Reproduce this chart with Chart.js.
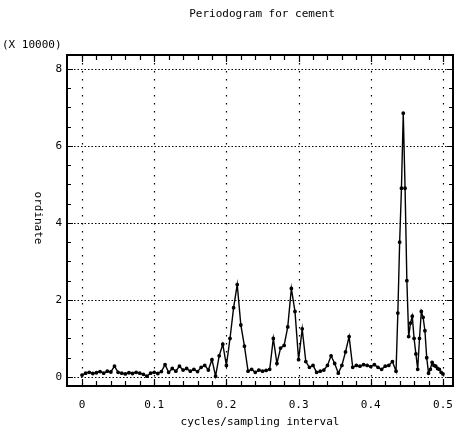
<!DOCTYPE html>
<html lang="en">
<head>
<meta charset="UTF-8">
<title>Periodogram for cement</title>
<script src="https://cdn.jsdelivr.net/npm/chart.js@4.4.1/dist/chart.umd.min.js"></script>
<style>
  html, body { margin: 0; padding: 0; background: #fff; }
  #wrap { width: 459px; height: 435px; }
</style>
</head>
<body>
<div id="wrap"><canvas id="chart" width="459" height="435"></canvas></div>
<script>
// frequency (cycles/sampling interval) and periodogram ordinate (x 10000)
const freq = [
  0.000, 0.005, 0.010, 0.015, 0.020, 0.025, 0.030, 0.035, 0.040, 0.045,
  0.050, 0.055, 0.060, 0.065, 0.070, 0.075, 0.080, 0.085, 0.090, 0.095,
  0.100, 0.105, 0.110, 0.115, 0.120, 0.125, 0.130, 0.135, 0.140, 0.145,
  0.150, 0.155, 0.160, 0.165, 0.170, 0.175, 0.180, 0.185, 0.190, 0.195,
  0.200, 0.205, 0.210, 0.215, 0.220, 0.225, 0.230, 0.235, 0.240, 0.245,
  0.250, 0.255, 0.260, 0.265, 0.270, 0.275, 0.280, 0.285, 0.290, 0.295,
  0.300, 0.305, 0.310, 0.315, 0.320, 0.325, 0.330, 0.335, 0.340, 0.345,
  0.350, 0.355, 0.360, 0.365, 0.370, 0.375, 0.380, 0.385, 0.390, 0.395,
  0.400, 0.405, 0.410, 0.415, 0.420, 0.425, 0.430, 0.435, 0.4375, 0.440,
  0.4425, 0.445, 0.4475, 0.450, 0.4525, 0.455, 0.4575, 0.460, 0.4625, 0.465,
  0.4675, 0.470, 0.4725, 0.475, 0.4775, 0.480, 0.4825, 0.485, 0.4875, 0.490,
  0.4925, 0.495, 0.4975, 0.500
];
const ordinate = [
  0.05, 0.10, 0.12, 0.09, 0.11, 0.14, 0.10, 0.15, 0.13, 0.28,
  0.12, 0.10, 0.08, 0.11, 0.09, 0.12, 0.10, 0.07, 0.02, 0.10,
  0.12, 0.09, 0.14, 0.32, 0.12, 0.22, 0.15, 0.28, 0.18, 0.22,
  0.15, 0.20, 0.14, 0.25, 0.30, 0.18, 0.45, 0.02, 0.55, 0.85,
  0.30, 1.00, 1.80, 2.40, 1.35, 0.80, 0.15, 0.20, 0.12, 0.18,
  0.15, 0.17, 0.20, 1.00, 0.35, 0.75, 0.82, 1.30, 2.30, 1.70,
  0.45, 1.25, 0.40, 0.25, 0.30, 0.12, 0.15, 0.18, 0.30, 0.55,
  0.35, 0.10, 0.30, 0.65, 1.05, 0.25, 0.30, 0.28, 0.32, 0.30,
  0.27, 0.32, 0.25, 0.20, 0.28, 0.30, 0.40, 0.15, 1.66, 3.50,
  4.90, 6.85, 4.90, 2.50, 1.05, 1.40, 1.58, 1.00, 0.60, 0.20,
  1.00, 1.70, 1.55, 1.20, 0.50, 0.10, 0.20, 0.38, 0.30, 0.28,
  0.22, 0.20, 0.12, 0.08
];
const xTicks = [0, 0.1, 0.2, 0.3, 0.4, 0.5];
const xTickLabels = ['0', '0.1', '0.2', '0.3', '0.4', '0.5'];
const yTicks = [0, 2, 4, 6, 8];

const monoFont = '"DejaVu Sans Mono", "Liberation Mono", monospace';

// frame, dotted grid, minor ticks and extra labels
const framePlugin = {
  id: 'frame',
  beforeDatasetsDraw(chart) {
    const ctx = chart.ctx;
    const a = chart.chartArea;
    const xs = chart.scales.x, ys = chart.scales.y;
    ctx.save();
    ctx.strokeStyle = '#000';
    ctx.lineWidth = 1.2;
    // vertical dotted grid
    ctx.setLineDash([1.5, 6.5]);
    xTicks.forEach(v => {
      const px = Math.round(xs.getPixelForValue(v)) + 0.5;
      ctx.beginPath(); ctx.moveTo(px, a.top); ctx.lineTo(px, a.bottom); ctx.stroke();
    });
    // horizontal dotted grid
    ctx.setLineDash([1.5, 2]);
    yTicks.forEach(v => {
      const py = Math.round(ys.getPixelForValue(v)) + 0.5;
      ctx.beginPath(); ctx.moveTo(a.left, py); ctx.lineTo(a.right, py); ctx.stroke();
    });
    ctx.setLineDash([]);
    // minor ticks
    for (let i = 0; i <= 25; i++) {
      const px = Math.round(xs.getPixelForValue(i * 0.02)) + 0.5;
      const len = (i % 5 === 0) ? 7 : 5;
      ctx.beginPath();
      ctx.moveTo(px, a.bottom); ctx.lineTo(px, a.bottom - len);
      ctx.moveTo(px, a.top); ctx.lineTo(px, a.top + len);
      ctx.stroke();
    }
    for (let i = 0; i <= 16; i++) {
      const py = Math.round(ys.getPixelForValue(i * 0.5)) + 0.5;
      const len = (i % 4 === 0) ? 6 : 4;
      ctx.beginPath();
      ctx.moveTo(a.left, py); ctx.lineTo(a.left + len, py);
      ctx.moveTo(a.right, py); ctx.lineTo(a.right - len, py);
      ctx.stroke();
    }
    ctx.restore();
  },
  afterDraw(chart) {
    const ctx = chart.ctx;
    const a = chart.chartArea;
    ctx.save();
    ctx.strokeStyle = '#000';
    ctx.lineWidth = 2;
    ctx.strokeRect(a.left, a.top, a.right - a.left, a.bottom - a.top);
    ctx.fillStyle = '#000';
    ctx.font = '11px ' + monoFont;
    ctx.textBaseline = 'middle';
    ctx.textAlign = 'center';
    ctx.fillText('Periodogram for cement', 262, 14);
    ctx.textAlign = 'left';
    ctx.fillText('(X 10000)', 2, 45);
    // rotated y-axis title
    ctx.translate(38, 218);
    ctx.rotate(Math.PI / 2);
    ctx.textAlign = 'center';
    ctx.fillText('ordinate', 0, 0);
    ctx.restore();
  }
};

new Chart(document.getElementById('chart').getContext('2d'), {
  type: 'scatter',
  data: {
    datasets: [{
      data: freq.map((f, i) => ({ x: f, y: ordinate[i] })),
      showLine: true,
      borderColor: '#000',
      backgroundColor: '#000',
      borderWidth: 1.4,
      pointRadius: 1.2,
      pointHoverRadius: 1.2,
      tension: 0
    }]
  },
  options: {
    responsive: false,
    animation: false,
    events: [],
    layout: { padding: { top: 55, right: 6, left: 0, bottom: 0 } },
    plugins: { legend: { display: false }, tooltip: { enabled: false } },
    scales: {
      x: {
        type: 'linear',
        min: -0.0208,
        max: 0.5139,
        afterFit(scale) {
          scale.height = 49;
          scale.paddingLeft = 0;
          scale.paddingRight = 0;
        },
        afterBuildTicks(scale) { scale.ticks = xTicks.map(v => ({ value: v })); },
        grid: { display: false, drawTicks: false },
        border: { display: false },
        ticks: {
          color: '#000',
          font: { family: monoFont, size: 11 },
          padding: 13,
          maxRotation: 0,
          callback: (v) => xTickLabels[xTicks.indexOf(v)] ?? ''
        },
        title: {
          display: true,
          text: 'cycles/sampling interval',
          color: '#000',
          font: { family: monoFont, size: 11 },
          padding: { top: 0, bottom: 6 }
        }
      },
      y: {
        type: 'linear',
        min: -0.234,
        max: 8.36,
        afterFit(scale) {
          scale.width = 67;
          scale.paddingTop = 0;
          scale.paddingBottom = 0;
        },
        afterBuildTicks(scale) { scale.ticks = yTicks.map(v => ({ value: v })); },
        grid: { display: false, drawTicks: false },
        border: { display: false },
        ticks: {
          color: '#000',
          font: { family: monoFont, size: 11 },
          padding: 5
        }
      }
    }
  },
  plugins: [framePlugin]
});
</script>
</body>
</html>
